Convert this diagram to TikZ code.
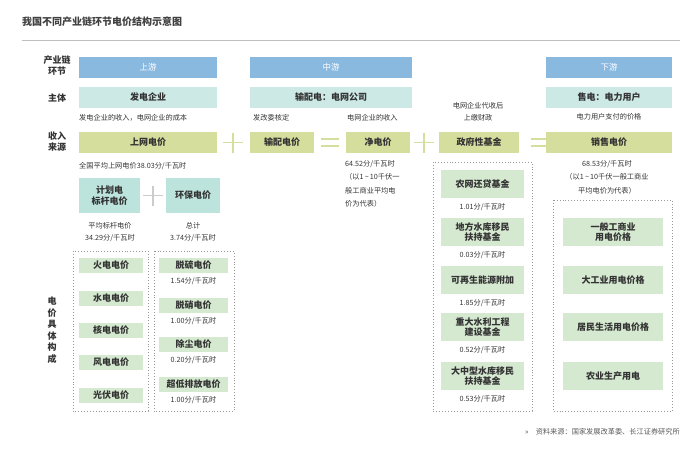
\documentclass[tikz,border=0pt]{standalone}
\usepackage{fontspec}
\setmainfont{Noto Sans CJK SC}
\newfontfamily\cjkb{Noto Sans CJK SC Bold}
\definecolor{bar}{HTML}{8AB9E0}
\definecolor{teal}{HTML}{CDE9E6}
\definecolor{olive}{HTML}{D6DE9E}
\definecolor{tealb}{HTML}{BDE3DD}
\definecolor{grn}{HTML}{D5E9D0}
\definecolor{txt}{HTML}{333333}
\definecolor{dash}{HTML}{999999}
\begin{document}
\begin{tikzpicture}[x=1pt,y=-1pt,
 bx/.style={inner sep=0pt,align=center,font=\fontsize{9}{10.5}\selectfont\bfseries,text=txt},
 sm/.style={inner sep=0pt,align=center,font=\fontsize{7.2}{12}\selectfont,text=txt},
 lab/.style={inner sep=0pt,align=center,font=\fontsize{9}{11}\selectfont\bfseries,text=txt},
 dbox/.style={draw=dash,dotted,line width=0.9pt},
 sign/.style={draw=olive,line width=1.6pt}]
\useasboundingbox (0,0) rectangle (697,453);
\node[anchor=west,font=\fontsize{10}{12}\selectfont\bfseries,text=black!75,inner sep=0pt] (title) at (22,22) {我国不同产业链环节电价结构示意图};
\draw[black!25,line width=1pt] (22,40) -- (680,40);
% left labels
\node[lab] (l1) at (57,66) {产业链\\环节};
\node[lab] (l2) at (57,98) {主体};
\node[lab] (l3) at (57,142) {收入\\来源};
\node[lab,font=\fontsize{9}{11.5}\selectfont\bfseries] (l4) at (52,330) {电\\价\\具\\体\\构\\成};
% stage bars
\foreach \n/\a/\b/\t in {s1/79/217/上游,s2/250/412/中游,s3/546/672/下游}
  \path[fill=bar] (\a,57) rectangle (\b,78) node[midway,bx,text=white,font=\fontsize{8.5}{10}\selectfont] (\n) {\t};
\foreach \n/\a/\b/\t in {z1/79/217/发电企业,z2/250/412/输配电：电网公司,z3/546/672/售电：电力用户}
  \path[fill=teal] (\a,87) rectangle (\b,108) node[midway,bx] (\n) {\t};
\node[sm,anchor=west] (t1) at (79,118) {发电企业的收入，电网企业的成本};
\node[sm,anchor=west] (t2) at (253,118) {发改委核定};
\node[sm,anchor=west] (t3) at (347,118) {电网企业的收入};
\node[sm] (t4) at (478,112) {电网企业代收后\\上缴财政};
\node[sm] (t5) at (609,117) {电力用户支付的价格};
% income row
\foreach \n/\a/\b/\t in {r1/79/217/上网电价,r2/250/314/输配电价,r3/346/410/净电价,r4/439/519/政府性基金,r5/546/672/销售电价}
  \path[fill=olive] (\a,132) rectangle (\b,153) node[midway,bx] (\n) {\t};
\foreach \x in {233,424}{\draw[sign] (\x-10,142.5) -- (\x+10,142.5); \draw[sign] (\x,132.5) -- (\x,152.5);}
\foreach \x in {330,540}{\draw[sign] (\x-9,139) -- (\x+9,139); \draw[sign] (\x-9,146) -- (\x+9,146);}
\node[sm,anchor=west] (a1) at (79,166) {全国平均上网电价38.03分/千瓦时};
\path[fill=tealb] (79,178) rectangle (140,213) node[midway,bx] (jh) {计划电\\标杆电价};
\path[fill=tealb] (166,178) rectangle (220,213) node[midway,bx] (hb) {环保电价};
\draw[draw=black!20,line width=1.6pt] (143,195.5) -- (163,195.5) (153,185.5) -- (153,205.5);
\node[sm] (a2) at (110,232) {平均标杆电价\\34.29分/千瓦时};
\node[sm] (a3) at (193,232) {总计\\3.74分/千瓦时};
\node[sm,anchor=north west,align=left,font=\fontsize{7.2}{13.5}\selectfont] (a4) at (345,160) {64.52分/千瓦时\\（以1\,\textasciitilde\,10千伏一\\般工商业平均电\\价为代表）};
\node[sm,font=\fontsize{7.2}{13.5}\selectfont,anchor=north] (a5) at (607,160) {68.53分/千瓦时\\（以1\,\textasciitilde\,10千伏一般工商业\\平均电价为代表）};
% dashed boxes
\draw[dbox] (73,251) rectangle (148,411);
\draw[dbox] (154,251) rectangle (234,411);
\draw[dbox] (433,162) rectangle (532,411);
\draw[dbox] (553,200) rectangle (672,411);
\foreach \n/\y/\t in {g1/265/火电电价,g2/298/水电电价,g3/330/核电电价,g4/362/风电电价,g5/395/光伏电价}
  \path[fill=grn] (79,\y-7.5) rectangle (143,\y+7.5) node[midway,bx] (\n) {\t};
\foreach \n/\y/\t/\v in {h1/265/脱硫电价/1.54,h2/305/脱硝电价/1.00,h3/344/除尘电价/0.20,h4/384/超低排放电价/1.00}{
  \path[fill=grn] (159,\y-7.5) rectangle (228,\y+7.5) node[midway,bx] (\n) {\t};
  \node[sm] (\n v) at (193.5,\y+16) {\v 分/千瓦时};}
\foreach \n/\y/\t/\v in {f1/184/农网还贷基金/1.01,f2/232/地方水库移民\\扶持基金/0.03,f3/280/可再生能源附加/1.85,f4/327/重大水利工程\\建设基金/0.52,f5/376/大中型水库移民\\扶持基金/0.53}{
  \path[fill=grn] (441,\y-14) rectangle (524,\y+14) node[midway,bx] (\n) {\t};
  \node[sm] (\n v) at (482.5,\y+23) {\v 分/千瓦时};}
\foreach \n/\y/\t in {e1/232/一般工商业\\用电价格,e2/280/大工业用电价格,e3/327/居民生活用电价格,e4/376/农业生产用电}
  \path[fill=grn] (563,\y-14) rectangle (663,\y+14) node[midway,bx] (\n) {\t};
\node[sm,anchor=east,text=black!65] (src) at (680,432) {>>\quad 资料来源：国家发展改革委、长江证券研究所};
\end{tikzpicture}
\end{document}
